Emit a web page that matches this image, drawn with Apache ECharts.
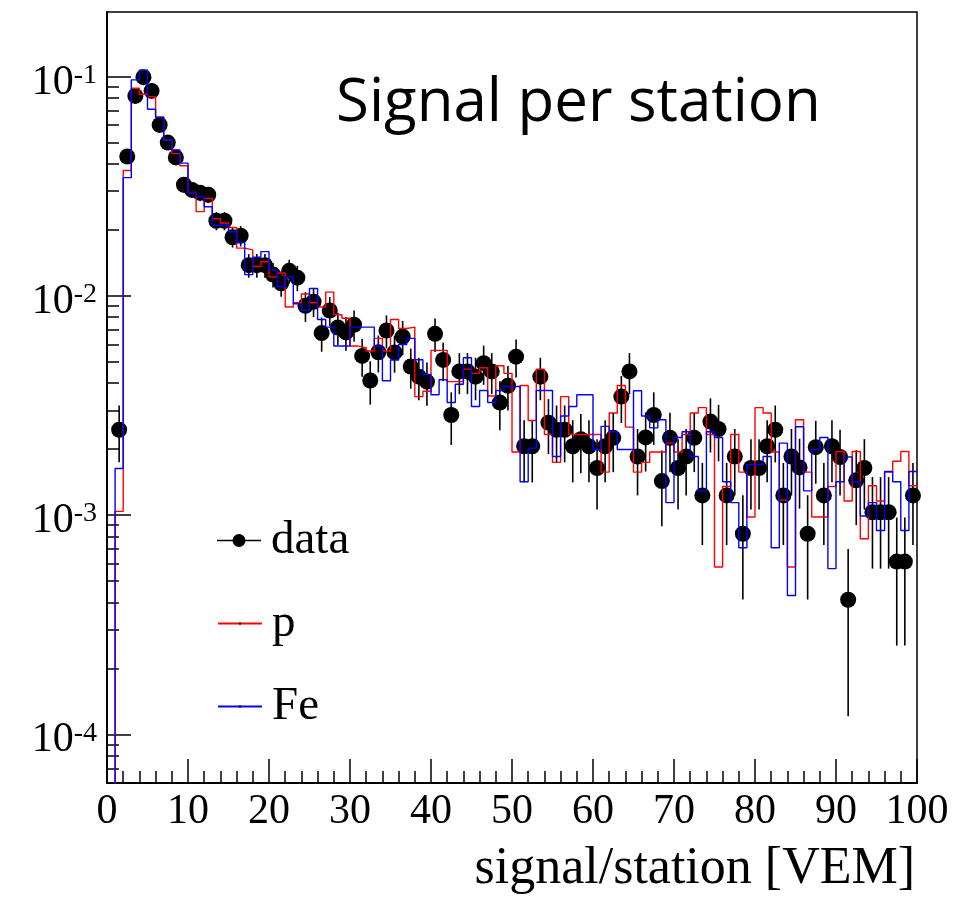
<!DOCTYPE html>
<html><head><meta charset="utf-8">
<script src="https://cdn.jsdelivr.net/npm/echarts@6/dist/echarts.min.js"></script>
<style>html,body{margin:0;padding:0;background:#fff}#c{width:958px;height:902px}</style>
</head><body><div id="c"></div>
<script>
// histogram bin edges (1 VEM bins, 0..100)
const binEdges = [0,1,2,3,4,5,6,7,8,9,10,11,12,13,14,15,16,17,18,19,20,21,22,23,24,25,26,27,28,29,30,31,32,33,34,35,36,37,38,39,40,41,42,43,44,45,46,47,48,49,50,51,52,53,54,55,56,57,58,59,60,61,62,63,64,65,66,67,68,69,70,71,72,73,74,75,76,77,78,79,80,81,82,83,84,85,86,87,88,89,90,91,92,93,94,95,96,97,98,99,100];

// data (per bin)
const dataValues = [null,0.00245,0.0432,0.0816,0.0994,0.086,0.0602,0.050,0.0428,0.0321,
0.0304,0.0295,0.0289,0.0220,0.0220,0.0185,0.0188,0.0138,0.0138,0.0138,
0.0125,0.0114,0.0130,0.0121,0.0090,0.0094,0.00676,0.00857,0.00717,0.00681,
0.00738,0.00532,0.00411,0.00553,0.00695,0.00552,0.00652,0.00476,0.00428,0.00406,
0.00671,0.00510,0.00286,0.00452,0.00452,0.00428,0.00493,0.00452,0.00326,0.00389,
0.00528,0.00206,0.00206,0.00428,0.00264,0.00245,0.00245,0.00206,0.00222,0.00206,
0.00164,0.00206,0.00225,0.00347,0.00452,0.00185,0.00226,0.00286,0.00143,0.00225,
0.00164,0.00185,0.00225,0.00123,0.00267,0.00247,0.00123,0.00185,0.000822,0.00164,
0.00164,0.00206,0.00245,0.00123,0.00185,0.00165,0.000822,0.00204,0.00123,0.00206,
0.00184,0.000411,0.00144,0.00164,0.00103,0.00103,0.00103,0.000614,0.000614,0.00123];

const dataErrors = [null,0.00071,0.0030,0.0041,0.0045,0.0042,0.0035,0.0032,0.0030,0.0026,
0.0025,0.0025,0.0024,0.0021,0.0021,0.0019,0.0020,0.0017,0.0017,0.0017,
0.0016,0.0015,0.0016,0.0016,0.0014,0.0014,0.0012,0.0013,0.0012,0.0012,
0.0012,0.00104,0.00092,0.00106,0.00119,0.00106,0.00116,0.00099,0.00094,0.00091,
0.00117,0.00102,0.00077,0.00096,0.00096,0.00094,0.00100,0.00096,0.00082,0.00089,
0.00104,0.00065,0.00065,0.00094,0.00074,0.00071,0.00071,0.00065,0.00067,0.00065,
0.00058,0.00065,0.00068,0.00084,0.00096,0.00062,0.00068,0.00077,0.00054,0.00068,
0.00058,0.00062,0.00068,0.00050,0.00074,0.00071,0.00050,0.00062,0.00041,0.00058,
0.00058,0.00065,0.00071,0.00050,0.00062,0.00058,0.00041,0.00065,0.00050,0.00065,
0.00061,0.00029,0.00054,0.00058,0.00046,0.00046,0.00046,0.00036,0.00036,0.00050];

// proton MC (per bin)
const pValues = [0,0.00104,0.0373,0.0885,0.083,0.081,0.0653,0.0514,0.0445,0.0392,
0.0296,0.0242,0.0278,0.0225,0.0215,0.0205,0.0165,0.0162,0.0136,0.0143,
0.0122,0.0127,0.0089,0.0093,0.0102,0.0093,0.0089,0.0104,0.0082,0.0079,
0.0059,0.0058,0.0056,0.0064,0.0056,0.0078,0.0071,0.0072,0.00347,0.00367,
0.00564,0.00564,0.00406,0.00406,0.00463,0.00443,0.0047,0.00349,0.0048,0.00443,
0.00194,0.0039,0.0027,0.00463,0.00233,0.00174,0.00347,0.00233,0.00233,0.00233,
0.00233,0.00157,0.00292,0.0039,0.00252,0.00157,0.00174,0.00194,0.00194,0.00213,
0.00194,0.00233,0.00292,0.00309,0.00233,0.00058,0.00135,0.00233,0.00157,0.00098,
0.00309,0.00292,0.00194,0.00117,0.00058,0.00272,0.00157,0.00098,0.00098,0.00135,
0.00195,0.00116,0.00195,0.00078,0.00136,0.00116,0.00157,0.00176,0.00195,0.00136];

// iron MC (per bin)
const feValues = [0,0.00163,0.0346,0.0966,0.107,0.071,0.0653,0.0514,0.0463,0.0403,
0.0296,0.0284,0.0255,0.0210,0.0210,0.0196,0.0175,0.0125,0.0150,0.0159,
0.0131,0.0110,0.0122,0.0092,0.0086,0.0108,0.0078,0.0072,0.0059,0.0059,
0.0072,0.0072,0.0072,0.0059,0.0041,0.0051,0.0060,0.0064,0.00511,0.00438,
0.00354,0.00414,0.00326,0.00395,0.00522,0.00313,0.0037,0.00326,0.0037,0.00386,
0.00386,0.00142,0.00202,0.0037,0.0037,0.00185,0.00283,0.00313,0.00354,0.00354,
0.00199,0.00254,0.0024,0.00199,0.00199,0.00369,0.00283,0.0025,0.00272,0.00114,
0.00226,0.0024,0.00185,0.00129,0.0024,0.00226,0.00142,0.00114,0.00071,0.0017,
0.0017,0.00185,0.00071,0.00213,0.00043,0.00253,0.00129,0.00199,0.00226,0.00057,
0.00142,0.00184,0.00142,0.00099,0.00114,0.00085,0.00158,0.00142,0.00085,0.00158];

const yMajorTicks = [1e-4, 1e-3, 1e-2, 1e-1];
const yMinorTicks = [7e-5,8e-5,9e-5,
  2e-4,3e-4,4e-4,5e-4,6e-4,7e-4,8e-4,9e-4,
  2e-3,3e-3,4e-3,5e-3,6e-3,7e-3,8e-3,9e-3,
  2e-2,3e-2,4e-2,5e-2,6e-2,7e-2,8e-2,9e-2];
const yMin = 6.0e-5, yMax = 0.197;

// ---- build library data from the arrays ----
const centers = [];
for (let i = 0; i < binEdges.length - 1; i++) centers.push((binEdges[i] + binEdges[i+1]) / 2);
const dataPts = [], errPts = [];
for (let i = 0; i < centers.length; i++) {
  if (dataValues[i] != null) {
    dataPts.push([centers[i], dataValues[i]]);
    errPts.push([centers[i], dataValues[i], dataErrors[i]]);
  }
}
function stepPoints(vals) {
  const pts = [];
  for (let i = 0; i < binEdges.length; i++) {
    let v = i < vals.length ? vals[i] : vals[vals.length - 1];
    if (!(v > 0)) v = yMin * 1e-3; // empty bin -> below frame (clipped)
    pts.push([binEdges[i], v]);
  }
  return pts;
}

const serif = 'Liberation Serif';
const chart = echarts.init(document.getElementById('c'), null, {renderer: 'canvas'});
chart.setOption({
  animation: false,
  backgroundColor: '#fff',
  title: [
    {text: 'Signal per station', left: 336, top: 74, padding: 0,
     textStyle: {fontFamily: 'Open Sans', fontSize: 60, fontWeight: 'normal', color: '#000'}},
    {text: 'signal/station [VEM]', right: 43, top: 843, padding: 0,
     textStyle: {fontFamily: serif, fontSize: 52, fontWeight: 'normal', color: '#000'}}
  ],
  legend: [
    {data: [{name: 'data', icon: 'path://M0,5.75L44,5.75L44,7.25L0,7.25Z M15.5,6.5A6.5,6.5 0 1,1 28.5,6.5A6.5,6.5 0 1,1 15.5,6.5Z'}],
     left: 217, top: 517, padding: 0, itemWidth: 44, itemHeight: 13, selectedMode: false,
     textStyle: {fontFamily: serif, fontSize: 47, color: '#000', lineHeight: 47, padding: [0, 0, 0, 5]}},
    {data: [{name: 'p', itemStyle: {color: '#000'}}, {name: 'Fe', itemStyle: {color: '#000'}}],
     orient: 'vertical', left: 217, top: 600, padding: 0, itemWidth: 44, itemHeight: 3, itemGap: 36,
     selectedMode: false,
     textStyle: {fontFamily: serif, fontSize: 47, color: '#000', lineHeight: 47, padding: [0, 0, 0, 5]}}
  ],
  grid: {left: 107, right: 41, top: 12, bottom: 119, show: true, borderColor: '#000', borderWidth: 1.5, backgroundColor: 'transparent'},
  xAxis: {
    type: 'value', min: 0, max: 100, interval: 10,
    axisLine: {show: true, onZero: false, lineStyle: {color: '#000', width: 2}},
    axisTick: {show: true, inside: true, length: 24, lineStyle: {color: '#000', width: 1.5}},
    minorTick: {show: true, splitNumber: 5, length: 12, lineStyle: {color: '#000', width: 1.5}},
    axisLabel: {fontFamily: serif, fontSize: 42, color: '#000', margin: 8},
    splitLine: {show: false}
  },
  yAxis: [
    {
      type: 'log', logBase: 10, min: yMin, max: yMax,
      axisLine: {show: true, lineStyle: {color: '#000', width: 2}},
      axisTick: {show: true, inside: true, length: 24, lineStyle: {color: '#000', width: 1.5}, customValues: yMajorTicks},
      axisLabel: {
        customValues: yMajorTicks, margin: 10, padding: [12, 0, 0, 0],
        formatter: function (v) { return '{b|10}{s|' + Math.round(Math.log10(v)) + '}'; },
        rich: {
          b: {fontFamily: serif, fontSize: 42, color: '#000'},
          s: {fontFamily: serif, fontSize: 28, color: '#000', verticalAlign: 'top'}
        }
      },
      splitLine: {show: false}
    },
    {
      type: 'log', logBase: 10, min: yMin, max: yMax, position: 'left', offset: 0,
      axisLine: {show: false},
      axisTick: {show: true, inside: true, length: 12, lineStyle: {color: '#000', width: 1.5}, customValues: yMinorTicks},
      axisLabel: {show: false},
      splitLine: {show: false}
    }
  ],
  series: [
    {
      name: 'errors', type: 'custom', yAxisIndex: 0, clip: true, z: 2,
      data: errPts, encode: {x: 0, y: 1},
      renderItem: function (params, api) {
        const x = api.value(0), v = api.value(1), e = api.value(2);
        const p1 = api.coord([x, v + e]);
        const p2 = api.coord([x, Math.max(v - e, yMin * 0.5)]);
        return {type: 'line', shape: {x1: p1[0], y1: p1[1], x2: p2[0], y2: p2[1]},
                style: {stroke: '#000', lineWidth: 1.6}};
      }
    },
    {
      name: 'data', type: 'scatter', yAxisIndex: 0, z: 3,
      symbol: 'circle', symbolSize: 16, itemStyle: {color: '#000', opacity: 1},
      data: dataPts
    },
    {
      name: 'p', type: 'line', yAxisIndex: 0, z: 4, step: 'end', symbol: 'none', clip: true,
      lineStyle: {color: '#ff0000', width: 1.4}, itemStyle: {color: '#ff0000'},
      data: stepPoints(pValues)
    },
    {
      name: 'Fe', type: 'line', yAxisIndex: 0, z: 5, step: 'end', symbol: 'none', clip: true,
      lineStyle: {color: '#0000ff', width: 1.4}, itemStyle: {color: '#0000ff'},
      data: stepPoints(feValues)
    }
  ]
});
</script>
</body></html>
